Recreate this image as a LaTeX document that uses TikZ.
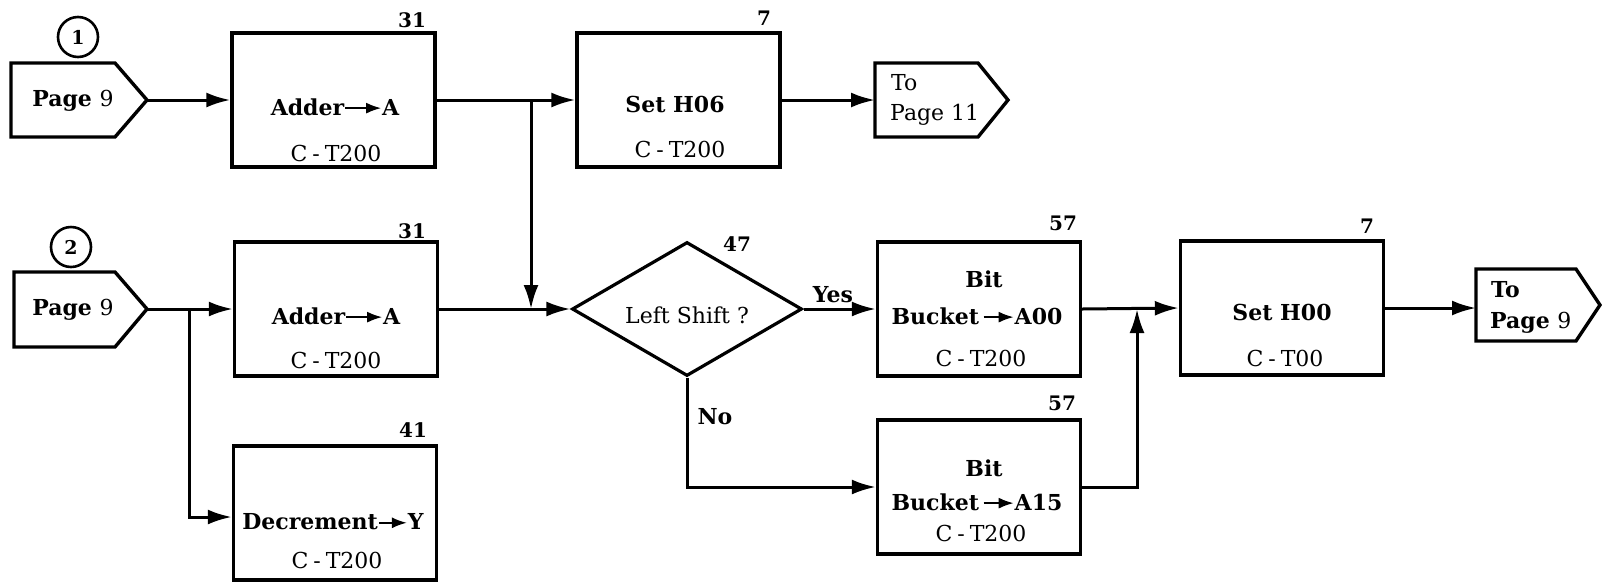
\documentclass[tikz,border=0pt]{standalone}
\usepackage{fontspec}
\setmainfont{DejaVu Serif}
\usetikzlibrary{arrows.meta,shapes.geometric,calc}
\newcommand{\ra}[1][34]{\tikz[baseline=-0.62ex]\draw[line width=2pt,-{Latex[length=15pt,width=11pt]}] (0pt,0pt)--(#1pt,0pt);}
\newcommand{\ct}[1]{C\kern5pt-\kern5pt T#1}
\tikzset{
 box/.style={draw, line width=3.4pt, minimum width=203pt, minimum height=134pt, inner sep=0pt},
 dia/.style={draw, diamond, line width=3.2pt, minimum width=230pt, minimum height=134pt, aspect=1.72, inner sep=0pt},
 offp/.style={line width=3.4pt, line join=miter},
 flow/.style={line width=3pt, -{Latex[length=24pt,width=15pt]}},
 txt/.style={font=\fontsize{22}{26}\selectfont\bfseries, inner sep=0pt},
 rtxt/.style={font=\fontsize{22}{26}\selectfont, inner sep=0pt},
 num/.style={font=\fontsize{20}{24}\selectfont\bfseries, inner sep=0pt},
 onum/.style={draw, circle, line width=2.6pt, minimum size=40pt, inner sep=0pt, font=\fontsize{19}{22}\selectfont\bfseries},
}
\begin{document}
\begin{tikzpicture}[x=1pt,y=-1pt]
\useasboundingbox[fill=white] (0,0) rectangle (1602,582);
% off-page connectors
\draw[offp] (11,63) -- (115,63) -- (147,100) -- (115,137) -- (11,137) -- cycle;
\coordinate (p1) at (147,100);
\draw[offp] (14,272) -- (115,272) -- (147,309) -- (115,347) -- (14,347) -- cycle;
\coordinate (p2) at (147,309);
\draw[offp] (875,63) -- (978,63) -- (1008,100) -- (978,137) -- (875,137) -- cycle;
\coordinate (to11) at (875,100);
\draw[offp] (1476,269) -- (1576,269) -- (1600,305) -- (1576,341) -- (1476,341) -- cycle;
\coordinate (to9) at (1476,308);
\node[onum] (c1) at (78,37) {1};
\node[onum] (c2) at (71,247) {2};
\node[txt] (p1t) at (73,101) {Page {\mdseries 9}};
\node[txt] (p2t) at (73,310) {Page {\mdseries 9}};
\node[rtxt,anchor=west] (to11a) at (891,83) {To};
\node[rtxt,anchor=west] (to11b) at (890,115) {Page 11};
\node[txt,anchor=west] (to9a) at (1491,290) {To};
\node[txt,anchor=west] (to9b) at (1490,323) {Page {\mdseries 9}};
% boxes
\node[box] (add1) at (333.5,100) {};
\node[box] (set06) at (678.5,100) {};
\node[box] (add2) at (336,309) {};
\node[box] (dec) at (335,513) {};
\node[dia] (ls) at (687,309) {};
\node[box] (a00) at (979,309) {};
\node[box] (a15) at (979,487) {};
\node[box] (set00) at (1282,308) {};
% box texts
\node[txt] (t1) at (335,107) {Adder\ra[36]A};
\node[rtxt] (t2) at (336,153) {\ct{200}};
\node[txt] (t3) at (336,316) {Adder\ra[36]A};
\node[rtxt] (t4) at (336,360) {\ct{200}};
\node[txt] (t5) at (333,522) {Decrement\ra[28]Y};
\node[rtxt] (t6) at (337,560) {\ct{200}};
\node[txt] (t7) at (675,104) {Set H06};
\node[rtxt] (t8) at (680,149) {\ct{200}};
\node[rtxt] (t9) at (687,315) {Left Shift ?};
\node[txt] (t10) at (984,279) {Bit};
\node[txt] (t11) at (977,316) {Bucket\,\ra[30]A00};
\node[rtxt] (t12) at (981,358) {\ct{200}};
\node[txt] (t13) at (984,468) {Bit};
\node[txt] (t14) at (977,502) {Bucket\,\ra[30]A15};
\node[rtxt] (t15) at (981,533) {\ct{200}};
\node[txt] (t16) at (1282,312) {Set H00};
\node[rtxt] (t17) at (1285,358) {\ct{00}};
\node[txt] (yes) at (833,295) {Yes};
\node[txt] (no) at (715,417) {No};
% numbers
\node[num] (n1) at (412,20) {31};
\node[num] (n2) at (412,231) {31};
\node[num] (n3) at (413,430) {41};
\node[num] (n4) at (764,18) {7};
\node[num] (n5) at (737,244) {47};
\node[num] (n6) at (1063,223) {57};
\node[num] (n7) at (1062,403) {57};
\node[num] (n8) at (1367,226) {7};
% connectors
\draw[flow] (p1) -- (add1.west);
\draw[flow] (add1.east) -- (set06.west);
\coordinate (j1) at (531,100);
\draw[flow] (j1) -- (j1 |- ls.west);
\draw[flow] (set06.east) -- (to11);
\draw[flow] (p2) -- (add2.west);
\coordinate (j2) at (189,309);
\draw[flow] (j2) |- ([yshift=-4pt]dec.west);
\draw[flow] (add2.east) -- (ls.west);
\draw[flow] (ls.east) -- (a00.west);
\draw[flow] (ls.south) |- (a15.west);
\draw[flow] (a00.east) -- (set00.west);
\coordinate (j3) at (1137,309);
\draw[flow] (a15.east) -| (j3);
\draw[flow] (set00.east) -- (to9);
\end{tikzpicture}
\end{document}
